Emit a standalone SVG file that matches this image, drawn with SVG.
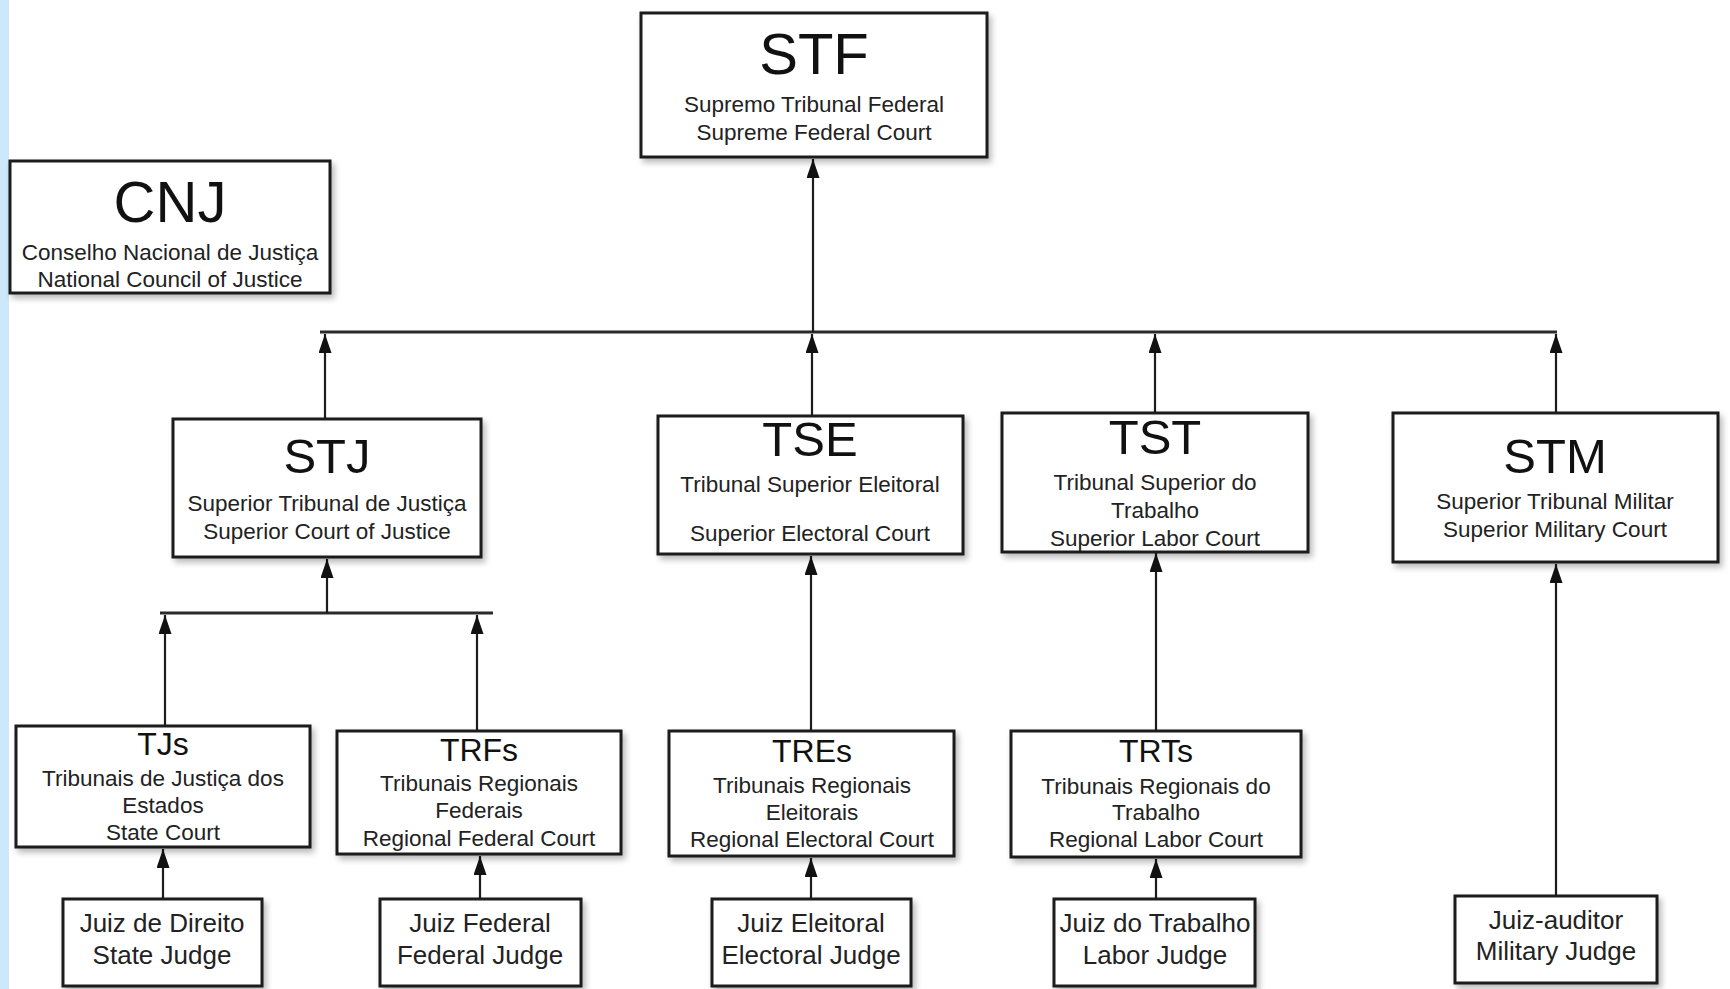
<svg xmlns="http://www.w3.org/2000/svg" width="1730" height="989" viewBox="0 0 1730 989">
<style>
.box{fill:#ffffff;stroke:#1c1c1c;stroke-width:3;filter:url(#sh)}
.t{font-family:"Liberation Sans",Arial,sans-serif;fill:#111;text-anchor:middle}
.h1{font-size:58px}
.h2{font-size:49px}
.h3{font-size:32px}
.s{font-size:22.5px;fill:#222}
.j{font-size:26px;fill:#222}
.c{stroke:#1c1c1c;stroke-width:2.2;fill:none}
.bus{stroke:#2a2a2a;stroke-width:3;fill:none}
.a{marker-end:url(#ah)}
</style>
<defs>
<filter id="sh" x="-10%" y="-10%" width="130%" height="130%">
<feGaussianBlur in="SourceAlpha" stdDeviation="3"/>
<feOffset dx="3" dy="4" result="o"/>
<feComponentTransfer><feFuncA type="linear" slope="0.28"/></feComponentTransfer>
<feMerge><feMergeNode/><feMergeNode in="SourceGraphic"/></feMerge>
</filter>
<marker id="ah" markerUnits="userSpaceOnUse" markerWidth="19" markerHeight="13" viewBox="0 0 19 13" refX="19" refY="6.5" orient="auto">
<path d="M0,0 L19,6.5 L0,13 Z" fill="#111"/>
</marker>
</defs>
<rect x="0" y="0" width="1730" height="989" fill="#ffffff"/>
<rect x="0" y="0" width="9" height="989" fill="#cde7fb"/>

<g id="connectors">
<line class="bus" x1="320" y1="332" x2="1557" y2="332"/>
<line class="bus" x1="160" y1="613" x2="493" y2="613"/>
<path class="c a" d="M813,332 V159"/>
<path class="c a" d="M325,418 V334"/>
<path class="c a" d="M812,415 V334"/>
<path class="c a" d="M1155,412 V334"/>
<path class="c a" d="M1556,412 V334"/>
<path class="c a" d="M327,613 V559"/>
<path class="c a" d="M165,725 V615"/>
<path class="c a" d="M477,730 V615"/>
<path class="c a" d="M811,730 V556"/>
<path class="c a" d="M1156,730 V553"/>
<path class="c a" d="M1556,895 V564"/>
<path class="c a" d="M163,898 V849"/>
<path class="c a" d="M480,898 V856"/>
<path class="c a" d="M811,898 V858"/>
<path class="c a" d="M1156,898 V859"/>
</g>

<g id="stf">
<rect class="box" x="641" y="13" width="346" height="144"/>
<text class="t h1" x="814" y="74">STF</text>
<text class="t s" x="814" y="112">Supremo Tribunal Federal</text>
<text class="t s" x="814" y="140">Supreme Federal Court</text>
</g>
<g id="cnj">
<rect class="box" x="10" y="161" width="320" height="132"/>
<text class="t h1" x="170" y="222">CNJ</text>
<text class="t s" x="170" y="260">Conselho Nacional de Justiça</text>
<text class="t s" x="170" y="287">National Council of Justice</text>
</g>
<g id="stj">
<rect class="box" x="173" y="419" width="308" height="138"/>
<text class="t h2" x="327" y="473">STJ</text>
<text class="t s" x="327" y="511">Superior Tribunal de Justiça</text>
<text class="t s" x="327" y="539">Superior Court of Justice</text>
</g>
<g id="tse">
<rect class="box" x="658" y="416" width="305" height="138"/>
<text class="t h2" x="810" y="456">TSE</text>
<text class="t s" x="810" y="492">Tribunal Superior Eleitoral</text>
<text class="t s" x="810" y="541">Superior Electoral Court</text>
</g>
<g id="tst">
<rect class="box" x="1002" y="413" width="306" height="139"/>
<text class="t h2" x="1155" y="454">TST</text>
<text class="t s" x="1155" y="490">Tribunal Superior do</text>
<text class="t s" x="1155" y="518">Trabalho</text>
<text class="t s" x="1155" y="546">Superior Labor Court</text>
</g>
<g id="stm">
<rect class="box" x="1393" y="413" width="325" height="149"/>
<text class="t h2" x="1555" y="473">STM</text>
<text class="t s" x="1555" y="509">Superior Tribunal Militar</text>
<text class="t s" x="1555" y="537">Superior Military Court</text>
</g>
<g id="tjs">
<rect class="box" x="16" y="726" width="294" height="121"/>
<text class="t h3" x="163" y="755">TJs</text>
<text class="t s" x="163" y="786">Tribunais de Justiça dos</text>
<text class="t s" x="163" y="813">Estados</text>
<text class="t s" x="163" y="840">State Court</text>
</g>
<g id="trfs">
<rect class="box" x="337" y="731" width="284" height="123"/>
<text class="t h3" x="479" y="761">TRFs</text>
<text class="t s" x="479" y="791">Tribunais Regionais</text>
<text class="t s" x="479" y="818">Federais</text>
<text class="t s" x="479" y="846">Regional Federal Court</text>
</g>
<g id="tres">
<rect class="box" x="669" y="731" width="285" height="125"/>
<text class="t h3" x="812" y="762">TREs</text>
<text class="t s" x="812" y="793">Tribunais Regionais</text>
<text class="t s" x="812" y="820">Eleitorais</text>
<text class="t s" x="812" y="847">Regional Electoral Court</text>
</g>
<g id="trts">
<rect class="box" x="1011" y="731" width="290" height="126"/>
<text class="t h3" x="1156" y="762">TRTs</text>
<text class="t s" x="1156" y="794">Tribunais Regionais do</text>
<text class="t s" x="1156" y="820">Trabalho</text>
<text class="t s" x="1156" y="847">Regional Labor Court</text>
</g>
<g id="juiz-direito">
<rect class="box" x="63" y="899" width="199" height="87"/>
<text class="t j" x="162" y="932">Juiz de Direito</text>
<text class="t j" x="162" y="964">State Judge</text>
</g>
<g id="juiz-federal">
<rect class="box" x="380" y="899" width="201" height="87"/>
<text class="t j" x="480" y="932">Juiz Federal</text>
<text class="t j" x="480" y="964">Federal Judge</text>
</g>
<g id="juiz-eleitoral">
<rect class="box" x="712" y="899" width="199" height="87"/>
<text class="t j" x="811" y="932">Juiz Eleitoral</text>
<text class="t j" x="811" y="964">Electoral Judge</text>
</g>
<g id="juiz-trabalho">
<rect class="box" x="1054" y="899" width="201" height="87"/>
<text class="t j" x="1155" y="932">Juiz do Trabalho</text>
<text class="t j" x="1155" y="964">Labor Judge</text>
</g>
<g id="juiz-auditor">
<rect class="box" x="1455" y="896" width="202" height="87"/>
<text class="t j" x="1556" y="929">Juiz-auditor</text>
<text class="t j" x="1556" y="960">Military Judge</text>
</g>
</svg>
